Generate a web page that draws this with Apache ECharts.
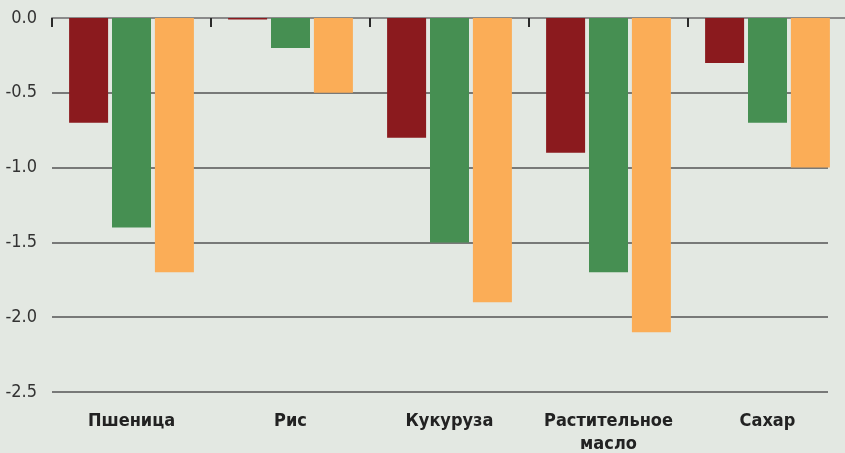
<!DOCTYPE html>
<html>
<head>
    <meta charset="utf-8">
    <title>chart</title>
    <script src="https://cdn.jsdelivr.net/npm/echarts@6/dist/echarts.min.js"></script>
    <style>
        html, body { margin: 0; padding: 0; background: #e3e8e2; }
        #main { width: 845px; height: 453px; }
    </style>
</head>
<body>
<div id="main"></div>
<script type="text/javascript">
    var categories = ['Пшеница', 'Рис', 'Кукуруза', 'Растительное масло', 'Сахар'];
    var seriesRed = [-0.7, -0.01, -0.8, -0.9, -0.3];
    var seriesGreen = [-1.4, -0.2, -1.5, -1.7, -0.7];
    var seriesOrange = [-1.7, -0.5, -1.9, -2.1, -1.0];
    var yTicks = [0, -0.5, -1.0, -1.5, -2.0, -2.5];

    var font = '"Liberation Sans Narrow", "DejaVu Sans Condensed", sans-serif';
    var colors = ['#8b1a1e', '#468f52', '#fbad57'];

    var myChart = echarts.init(document.getElementById('main'));
    myChart.setOption({
        backgroundColor: '#e3e8e2',
        color: colors,
        animation: false,
        grid: [
            // grid 0: only the horizontal grid lines + y labels
            {left: 52, top: 18, width: 776, height: 374, outerBoundsMode: 'none'},
            // grid 1: the bars
            {left: 52, top: 18, width: 795, height: 374, outerBoundsMode: 'none'}
        ],
        xAxis: [
            {gridIndex: 0, type: 'category', data: categories, show: false},
            {
                gridIndex: 1, type: 'category', data: categories, position: 'top',
                axisLine: {show: true, onZero: false, lineStyle: {color: '#8a8a8a', width: 2}},
                axisTick: {show: true, inside: true, length: 9, lineStyle: {color: '#2a2a2a', width: 2}},
                axisLabel: {show: false}
            },
            {
                gridIndex: 1, type: 'category', data: categories, position: 'bottom',
                axisLine: {show: false}, axisTick: {show: false},
                axisLabel: {
                    interval: 0, hideOverlap: false,
                    margin: 18, fontSize: 18, fontWeight: 'bold', color: '#222',
                    fontFamily: font, lineHeight: 23,
                    formatter: function (v) { return v.replace(' ', '\n'); }
                }
            }
        ],
        yAxis: [
            {
                gridIndex: 0, type: 'value', min: yTicks[yTicks.length - 1], max: yTicks[0], interval: 0.5,
                axisLine: {show: false}, axisTick: {show: false},
                splitLine: {show: true, lineStyle: {color: '#555', width: 1.5}},
                axisLabel: {
                    margin: 15, fontSize: 18, color: '#333', fontFamily: font,
                    formatter: function (v) { return v.toFixed(1); }
                }
            },
            {
                gridIndex: 1, type: 'value', min: yTicks[yTicks.length - 1], max: yTicks[0], interval: 0.5,
                show: false, splitLine: {show: false}
            }
        ],
        series: [
            {type: 'bar', xAxisIndex: 1, yAxisIndex: 1, data: seriesRed, barWidth: 39, barGap: '10%'},
            {type: 'bar', xAxisIndex: 1, yAxisIndex: 1, data: seriesGreen, barWidth: 39, barGap: '10%'},
            {type: 'bar', xAxisIndex: 1, yAxisIndex: 1, data: seriesOrange, barWidth: 39, barGap: '10%'}
        ]
    });
</script>
</body>
</html>
